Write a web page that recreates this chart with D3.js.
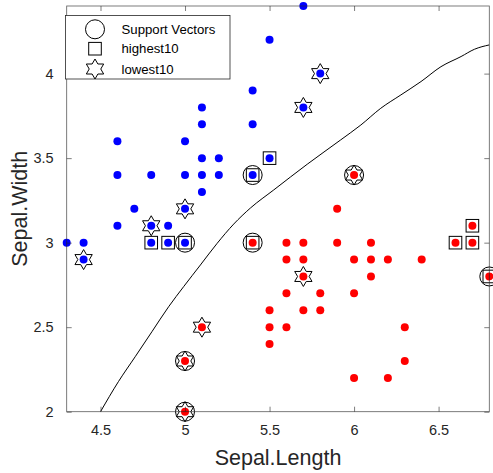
<!DOCTYPE html>
<html>
<head>
<meta charset="utf-8">
<script src="https://cdn.jsdelivr.net/npm/d3@7"></script>
<style>
  body { margin: 0; background: #fff; }
  text { font-family: "Liberation Sans", Arial, Helvetica, sans-serif; }
</style>
</head>
<body>
<script>
// iris setosa (blue) and versicolor (red), sepal length / width
const setosa = [
  [4.3, 3.0], [4.4, 3.0], [4.4, 2.9], [4.6, 3.6], [4.6, 3.4], [4.6, 3.1],
  [4.7, 3.2], [4.8, 3.4], [4.8, 3.1], [4.8, 3.0], [4.9, 3.1], [4.9, 3.0],
  [5.0, 3.6], [5.0, 3.4], [5.0, 3.2], [5.0, 3.0], [5.1, 3.8], [5.1, 3.7],
  [5.1, 3.5], [5.1, 3.4], [5.1, 3.3], [5.2, 3.5], [5.2, 3.4], [5.4, 3.9],
  [5.4, 3.7], [5.4, 3.4], [5.5, 4.2], [5.5, 3.5], [5.7, 4.4], [5.7, 3.8],
  [5.8, 4.0]
];
const versicolor = [
  [5.0, 2.0], [5.0, 2.3], [5.1, 2.5], [5.4, 3.0], [5.5, 2.6], [5.5, 2.5],
  [5.5, 2.4], [5.6, 3.0], [5.6, 2.9], [5.6, 2.7], [5.6, 2.5], [5.7, 3.0],
  [5.7, 2.9], [5.7, 2.8], [5.7, 2.6], [5.8, 2.7], [5.8, 2.6], [5.9, 3.2],
  [5.9, 3.0], [6.0, 3.4], [6.0, 2.9], [6.0, 2.7], [6.0, 2.2], [6.1, 3.0],
  [6.1, 2.9], [6.1, 2.8], [6.2, 2.9], [6.2, 2.2], [6.3, 2.5], [6.3, 2.3],
  [6.4, 2.9], [6.6, 3.0], [6.7, 3.1], [6.7, 3.0], [6.8, 2.8]
];
const supportVectors = [
  [5.0, 3.0], [5.4, 3.4], [5.4, 3.0], [6.0, 3.4], [6.8, 2.8], [5.0, 2.3], [5.0, 2.0]
];
const highest10 = [
  [4.8, 3.0], [4.9, 3.0], [5.0, 3.0], [5.4, 3.4], [5.5, 3.5],
  [5.4, 3.0], [6.6, 3.0], [6.7, 3.0], [6.7, 3.1], [6.8, 2.8]
];
const lowest10 = [
  [4.4, 2.9], [4.8, 3.1], [5.0, 3.2], [5.7, 3.8], [5.8, 4.0],
  [6.0, 3.4], [5.7, 2.8], [5.1, 2.5], [5.0, 2.3], [5.0, 2.0]
];
// decision boundary
const boundary = [
  [4.5, 2.0], [4.606, 2.178], [4.705, 2.325], [4.804, 2.473], [4.903, 2.621],
  [4.992, 2.74], [5.091, 2.868], [5.19, 2.996], [5.288, 3.11], [5.387, 3.205],
  [5.525, 3.312], [5.723, 3.464], [5.921, 3.608], [6.04, 3.696], [6.158, 3.795],
  [6.277, 3.874], [6.396, 3.953], [6.514, 4.041], [6.633, 4.101], [6.712, 4.144],
  [6.801, 4.17]
];
const xTicks = [4.5, 5, 5.5, 6, 6.5];
const yTicks = [2, 2.5, 3, 3.5, 4];
const legendLabels = ["Support Vectors", "highest10", "lowest10"];

const width = 493, height = 473;
const margin = { left: 66.7, right: 3.7, top: 6, bottom: 61.3 };
const axisColor = "#262626";

const svg = d3.select("body").append("svg")
  .attr("width", width)
  .attr("height", height);

const x = d3.scaleLinear().domain([4.3, 6.8]).range([margin.left, width - margin.right]);
const y = d3.scaleLinear().domain([2, 4.4]).range([height - margin.bottom, margin.top]);

// six pointed star like matlab 'h' marker
function hexagram(R) {
  const r = R / Math.sqrt(3);
  const pts = [];
  for (let i = 0; i < 12; i++) {
    const a = -Math.PI / 2 + i * Math.PI / 6;
    const rad = i % 2 === 0 ? R : r;
    pts.push([rad * Math.cos(a), rad * Math.sin(a)]);
  }
  return "M" + pts.map(p => p.join(",")).join("L") + "Z";
}

svg.append("defs").append("clipPath").attr("id", "plot")
  .append("rect")
  .attr("x", x(4.3)).attr("y", y(4.4))
  .attr("width", x(6.8) - x(4.3)).attr("height", y(2) - y(4.4));

// dots
svg.append("g").selectAll("circle")
  .data(setosa).enter().append("circle")
  .attr("cx", d => x(d[0])).attr("cy", d => y(d[1]))
  .attr("r", 4).attr("fill", "#0000ff");

svg.append("g").selectAll("circle")
  .data(versicolor).enter().append("circle")
  .attr("cx", d => x(d[0])).attr("cy", d => y(d[1]))
  .attr("r", 4).attr("fill", "#ff0000");

// markers on top
svg.append("g").selectAll("circle")
  .data(supportVectors).enter().append("circle")
  .attr("cx", d => x(d[0])).attr("cy", d => y(d[1]))
  .attr("r", 9.5).attr("fill", "none")
  .attr("stroke", "#000").attr("stroke-width", 1);

svg.append("g").selectAll("rect")
  .data(highest10).enter().append("rect")
  .attr("x", d => x(d[0]) - 6.3).attr("y", d => y(d[1]) - 6.3)
  .attr("width", 12.6).attr("height", 12.6)
  .attr("fill", "none").attr("stroke", "#000").attr("stroke-width", 1);

svg.append("g").selectAll("path")
  .data(lowest10).enter().append("path")
  .attr("d", hexagram(10))
  .attr("transform", d => `translate(${x(d[0])},${y(d[1])})`)
  .attr("fill", "none").attr("stroke", "#000").attr("stroke-width", 1);

// boundary
svg.append("path")
  .datum(boundary)
  .attr("clip-path", "url(#plot)")
  .attr("d", d3.line().x(d => x(d[0])).y(d => y(d[1])).curve(d3.curveMonotoneX))
  .attr("fill", "none").attr("stroke", "#000").attr("stroke-width", 1);

// axes box with inward ticks
const axes = svg.append("g").attr("stroke", axisColor).attr("stroke-width", 0.8).attr("opacity", 0.75);
axes.append("rect")
  .attr("x", x(4.3)).attr("y", y(4.4))
  .attr("width", x(6.8) - x(4.3)).attr("height", y(2) - y(4.4))
  .attr("fill", "none");

const axBottom = svg.append("g").attr("transform", `translate(0,${y(2)})`)
  .call(d3.axisBottom(x).tickValues(xTicks).tickSizeInner(-5).tickSizeOuter(0).tickPadding(13).tickFormat(d3.format("")));
const axTop = svg.append("g").attr("transform", `translate(0,${y(4.4)})`)
  .call(d3.axisTop(x).tickValues(xTicks).tickSizeInner(-5).tickSizeOuter(0).tickFormat(""));
const axLeft = svg.append("g").attr("transform", `translate(${x(4.3)},0)`)
  .call(d3.axisLeft(y).tickValues(yTicks).tickSizeInner(-5).tickSizeOuter(0).tickPadding(13).tickFormat(d3.format("")));
const axRight = svg.append("g").attr("transform", `translate(${x(6.8)},0)`)
  .call(d3.axisRight(y).tickValues(yTicks).tickSizeInner(-5).tickSizeOuter(0).tickFormat(""));

[axBottom, axTop, axLeft, axRight].forEach(g => {
  g.select(".domain").remove();
  g.selectAll("line").attr("stroke", axisColor).attr("stroke-width", 0.8).attr("opacity", 0.75);
  g.selectAll("text")
    .attr("fill", axisColor)
    .style("font-size", "14.5px")
    .style("font-family", "'Liberation Sans', Arial, sans-serif");
});

svg.append("text")
  .attr("x", (x(4.3) + x(6.8)) / 2).attr("y", 465)
  .attr("text-anchor", "middle")
  .attr("fill", axisColor)
  .style("font-size", "21.5px")
  .text("Sepal.Length");

svg.append("text")
  .attr("transform", `translate(27,${(y(2) + y(4.4)) / 2}) rotate(-90)`)
  .attr("text-anchor", "middle")
  .attr("fill", axisColor)
  .style("font-size", "21.5px")
  .text("Sepal.Width");

// legend
const legend = svg.append("g");
legend.append("rect")
  .attr("x", 65.5).attr("y", 15.5).attr("width", 164.5).attr("height", 63.5)
  .attr("fill", "#fff").attr("stroke", axisColor).attr("stroke-width", 0.8);

const rowY = [29.3, 48.7, 69];
legend.append("circle").attr("cx", 95).attr("cy", rowY[0]).attr("r", 9.5)
  .attr("fill", "none").attr("stroke", "#000");
legend.append("rect").attr("x", 95 - 6.3).attr("y", rowY[1] - 6.3)
  .attr("width", 12.6).attr("height", 12.6)
  .attr("fill", "none").attr("stroke", "#000");
legend.append("path").attr("d", hexagram(10))
  .attr("transform", `translate(95,${rowY[2]})`)
  .attr("fill", "none").attr("stroke", "#000");

legend.selectAll("text.lab")
  .data(legendLabels).enter().append("text")
  .attr("class", "lab")
  .attr("x", 121.5).attr("y", (d, i) => rowY[i] + 4.6)
  .attr("fill", "#000")
  .style("font-size", "13.2px")
  .text(d => d);
</script>
</body>
</html>
